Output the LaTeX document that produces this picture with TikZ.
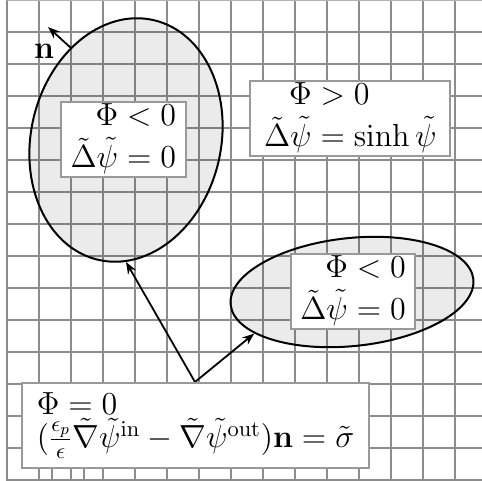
\RequirePackage{fix-cm}
\documentclass[tikz,border=0pt]{standalone}
\usepackage{amsmath}
\usetikzlibrary{arrows.meta,shapes.geometric}
\setlength{\jot}{0pt}
\tikzset{
  region/.style={ellipse, draw=black, line width=1pt, fill=black, fill opacity=0.08, inner sep=0pt},
  eqbox/.style={draw=black!40, line width=1pt, fill=white, inner sep=0pt, font=\fontsize{16}{16.5}\selectfont},
  link/.style={line width=0.9pt, -{Stealth[length=6pt,width=4.5pt]}},
}

\begin{document}
\begin{tikzpicture}[x=0.5pt,y=0.5pt]
\useasboundingbox (0,-481) rectangle (482,0);
\draw[black!45, line width=1pt] (7,0) -- (7,-481);
\draw[black!45, line width=1pt] (39,0) -- (39,-481);
\draw[black!45, line width=1pt] (71,0) -- (71,-481);
\draw[black!45, line width=1pt] (103,0) -- (103,-481);
\draw[black!45, line width=1pt] (135,0) -- (135,-481);
\draw[black!45, line width=1pt] (167,0) -- (167,-481);
\draw[black!45, line width=1pt] (199,0) -- (199,-481);
\draw[black!45, line width=1pt] (231,0) -- (231,-481);
\draw[black!45, line width=1pt] (263,0) -- (263,-481);
\draw[black!45, line width=1pt] (295,0) -- (295,-481);
\draw[black!45, line width=1pt] (327,0) -- (327,-481);
\draw[black!45, line width=1pt] (359,0) -- (359,-481);
\draw[black!45, line width=1pt] (391,0) -- (391,-481);
\draw[black!45, line width=1pt] (423,0) -- (423,-481);
\draw[black!45, line width=1pt] (455,0) -- (455,-481);
\draw[black!45, line width=1pt] (52,-468) -- (52,-481);
\draw[black!45, line width=1pt] (84,-468) -- (84,-481);
\draw[black!30, line width=1pt] (7,0) -- (482,0);
\draw[black!45, line width=1pt] (7,-32) -- (482,-32);
\draw[black!45, line width=1pt] (7,-64) -- (482,-64);
\draw[black!45, line width=1pt] (7,-96) -- (482,-96);
\draw[black!45, line width=1pt] (7,-128) -- (482,-128);
\draw[black!45, line width=1pt] (7,-160) -- (482,-160);
\draw[black!45, line width=1pt] (7,-192) -- (482,-192);
\draw[black!45, line width=1pt] (7,-224) -- (482,-224);
\draw[black!45, line width=1pt] (7,-256) -- (482,-256);
\draw[black!45, line width=1pt] (7,-288) -- (482,-288);
\draw[black!45, line width=1pt] (7,-320) -- (482,-320);
\draw[black!45, line width=1pt] (7,-352) -- (482,-352);
\draw[black!45, line width=1pt] (7,-384) -- (482,-384);
\draw[black!45, line width=1pt] (7,-416) -- (482,-416);
\draw[black!45, line width=1pt] (7,-448) -- (482,-448);
\draw[black!45, line width=1pt] (7,-480) -- (482,-480);

\node[region, minimum width=95pt, minimum height=123pt, rotate=-13] (inA) at (126,-140) {};
\node[region, minimum width=122pt, minimum height=54pt, rotate=6] (inB) at (352,-292) {};

\coordinate (ntip) at (48,-27);
\coordinate (fork) at (195,-382);
\draw[link] (inA.134) -- (ntip);
\node[font=\fontsize{16}{16.5}\selectfont] (nlabel) at (44,-51) {$\mathbf{n}$};
\draw[link] (fork) -- (inA.-77);
\draw[link] (fork) -- (inB.197);

\node[eqbox, minimum width=62.7pt, minimum height=33.7pt] (insideA) at (123.3,-139.7)
  {$\begin{aligned}\Phi&<0\\ \tilde\Delta\tilde\psi&=0\end{aligned}$};
\node[eqbox, minimum width=100pt, minimum height=35.3pt] (outside) at (350.3,-118.7)
  {$\begin{aligned}\Phi&>0\\ \tilde\Delta\tilde\psi&=\sinh\tilde\psi\end{aligned}$};
\node[eqbox, minimum width=62pt, minimum height=33.3pt] (insideB) at (353,-291.7)
  {$\begin{aligned}\Phi&<0\\ \tilde\Delta\tilde\psi&=0\end{aligned}$};
\node[eqbox, minimum width=173.8pt, minimum height=42.5pt, align=left] (surface) at (195.5,-425.8)
  {$\Phi=0$\\ $(\tfrac{\epsilon_p}{\epsilon}\tilde\nabla\tilde\psi^{\mathrm{in}}-\tilde\nabla\tilde\psi^{\mathrm{out}})\mathbf{n}=\tilde\sigma$};
\end{tikzpicture}
\end{document}
